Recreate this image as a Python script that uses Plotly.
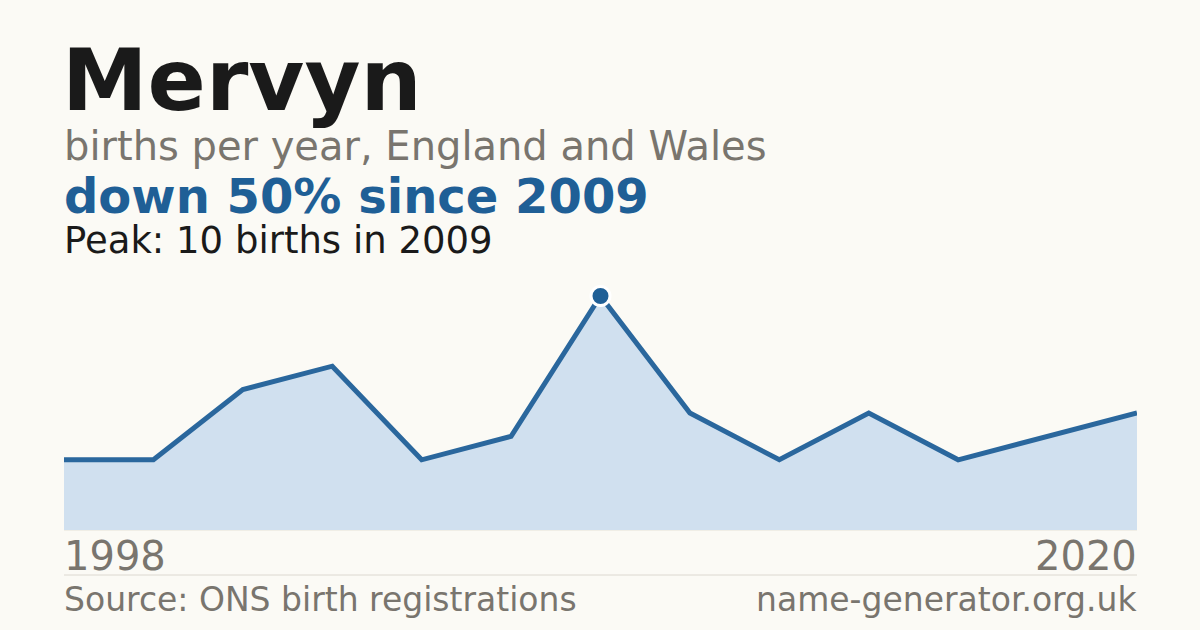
import plotly.graph_objects as go

# data
years = ["1998", "1999", "2001", "2003", "2005", "2007", "2009",
         "2011", "2013", "2015", "2017", "2019", "2020"]
births = [3, 3, 6, 7, 3, 4, 10, 5, 3, 5, 3, 4, 5]
name = "Mervyn"
subtitle = "births per year, England and Wales"
source = "Source: ONS birth registrations"
site = "name-generator.org.uk"

W, H = 1200, 630
BG = "#fbfaf5"
BLUE = "#1f5f96"
GREY = "#79756e"
DARK = "#1a1a1a"
FONT = "DejaVu Sans"

peak_i = births.index(max(births))
change = round((births[-1] - births[peak_i]) / births[peak_i] * 100)
headline = f"{'down' if change < 0 else 'up'} {abs(change)}% since {years[peak_i]}"
peak_text = f"Peak: {births[peak_i]} births in {years[peak_i]}"


def py(pix):
    # pixel y -> paper y (margins are zero)
    return 1 - pix / H


def px(pix):
    return pix / W


fig = go.Figure()
fig.add_trace(go.Scatter(
    x=years, y=births, mode="lines",
    line=dict(color="#2a679d", width=5),
    fill="tozeroy", fillcolor="#d0e0ef",
    cliponaxis=False, hoverinfo="skip",
))
fig.add_trace(go.Scatter(
    x=[years[peak_i]], y=[births[peak_i]], mode="markers",
    marker=dict(color=BLUE, size=19, line=dict(color="white", width=3)),
    cliponaxis=False, hoverinfo="skip",
))

fig.update_layout(
    width=W, height=H,
    margin=dict(l=0, r=0, t=0, b=0),
    paper_bgcolor=BG, plot_bgcolor=BG,
    showlegend=False,
    font=dict(family=FONT),
    xaxis=dict(type="category", domain=[px(64), px(1137)], range=[0, len(years) - 1],
               visible=False, fixedrange=True),
    yaxis=dict(domain=[py(530), py(296)], range=[0, max(births)],
               visible=False, fixedrange=True),
)

# faint baseline and footer rule
fig.add_shape(type="line", xref="paper", yref="paper", x0=px(64), x1=px(1137),
              y0=py(530), y1=py(530), line=dict(color="#e6e1d8", width=1), layer="below")
fig.add_shape(type="line", xref="paper", yref="paper", x0=px(64), x1=px(1137),
              y0=py(575), y1=py(575), line=dict(color="#dcd8d0", width=1))


def label(text, x, y, size, color, bold=False, anchor="left"):
    fig.add_annotation(
        text=f"<b>{text}</b>" if bold else text,
        xref="paper", yref="paper", x=px(x), y=py(y),
        xanchor=anchor, yanchor="middle", showarrow=False,
        font=dict(family=FONT, size=size, color=color),
    )


label(name, 60, 80, 86, DARK, bold=True)
label(subtitle, 62, 146, 40, GREY)
label(headline, 62, 196, 48, BLUE, bold=True)
label(peak_text, 62, 241, 37, DARK)
label(years[0], 62, 556, 40, GREY)
label(years[-1], 1139, 556, 40, GREY, anchor="right")
label(source, 62, 599, 33, GREY)
label(site, 1139, 599, 33, GREY, anchor="right")

fig.write_html("out.html", config={"displayModeBar": False},
               post_script="document.body.style.margin='0';")
